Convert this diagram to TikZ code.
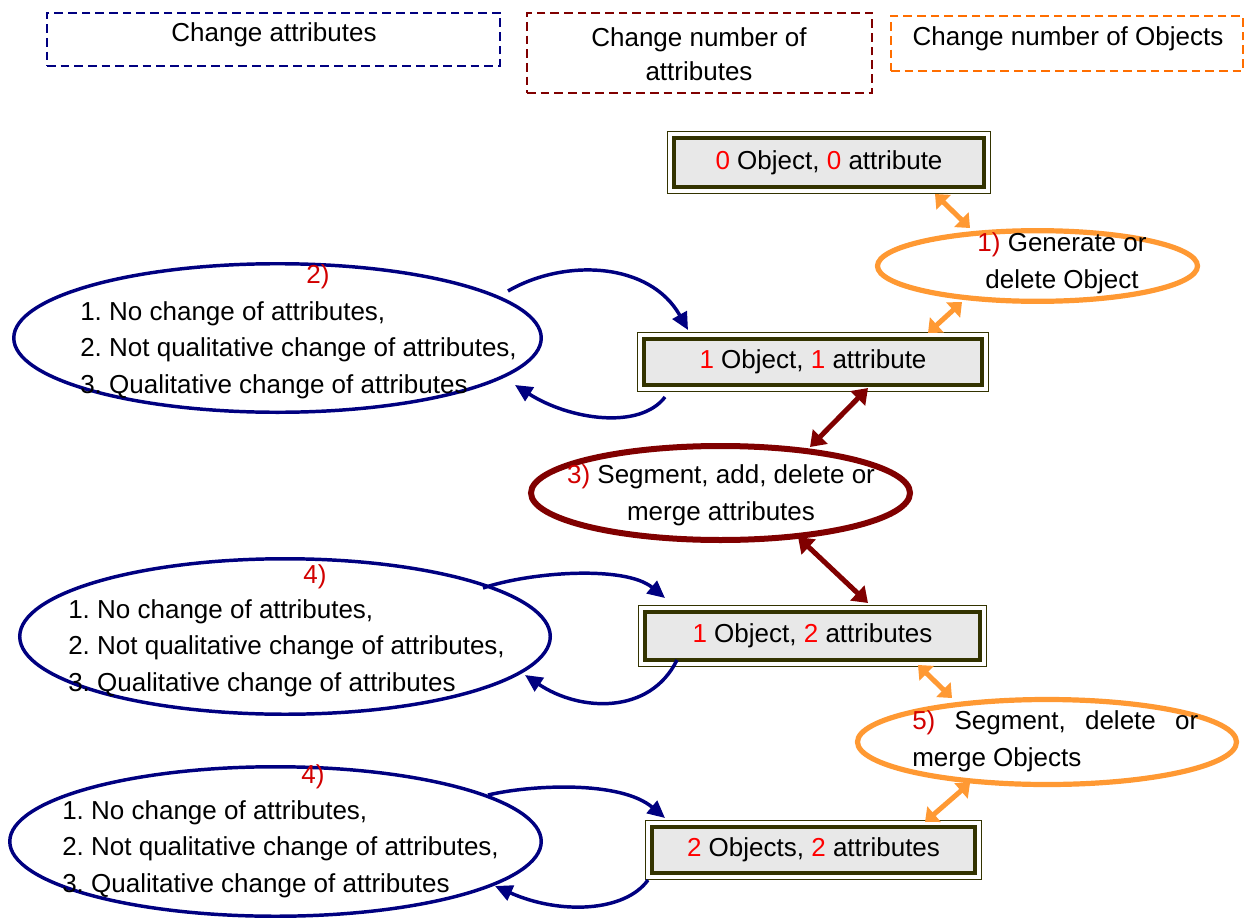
\documentclass[tikz,border=0pt]{standalone}
\usepackage{fontspec}
\setmainfont{Liberation Sans}
\usetikzlibrary{arrows.meta,shapes.geometric,calc}

\definecolor{navyline}{RGB}{0,0,128}
\definecolor{maroonline}{RGB}{128,0,0}
\definecolor{orangeline}{RGB}{255,153,51}
\definecolor{orangedash}{RGB}{255,110,0}
\definecolor{frameolive}{RGB}{51,51,0}
\definecolor{boxfill}{RGB}{232,232,232}
\definecolor{labelred}{RGB}{210,0,0}

\newcommand{\rednum}[1]{\textcolor{red}{#1}}
\newcommand{\stepmark}[1]{\textcolor{labelred}{#1}}
\frenchspacing

\begin{document}
\begin{tikzpicture}[x=0.75pt,y=-0.75pt,
  every node/.style={font=\fontsize{19.5}{27.5}\selectfont},
  txt/.style={inner sep=0pt},
  legendbox/.style={draw, line width=2.1pt, dash pattern=on 6.5pt off 3.75pt, inner sep=0pt},
  statebox/.style={draw=frameolive, line width=2.6pt, fill=boxfill, inner sep=0pt},
  outerframe/.style={draw=frameolive, line width=1.1pt},
  stage/.style={ellipse, inner sep=0pt},
  loopedge/.style={draw=navyline, line width=2.6pt, -{Triangle[length=13pt,width=12pt]}},
  objedge/.style={draw=orangeline, line width=3.75pt,
    {Triangle[length=9pt,width=15pt]}-{Triangle[length=9pt,width=15pt]}},
  attredge/.style={draw=maroonline, line width=3.75pt,
    {Triangle[length=11pt,width=15pt]}-{Triangle[length=11pt,width=15pt]}},
]
\useasboundingbox[fill=white] (0,0) rectangle (1245,920);

% legend
\node[legendbox, draw=navyline, minimum width=339.75pt, minimum height=39.75pt] (k1) at (273.5,39.5) {};
\node[txt] (k1t) at (274,35) {Change attributes};
\node[legendbox, draw=maroonline, minimum width=258.75pt, minimum height=60pt] (k2) at (699.5,53) {};
\node[txt, align=center, font=\fontsize{19.5}{25.5}\selectfont] (k2t) at (699,54) {Change number of\\attributes};
\node[legendbox, draw=orangedash, minimum width=264pt, minimum height=41.25pt] (k3) at (1067,43.5) {};
\node[txt] (k3t) at (1068,39) {Change number of Objects};

% states
\node[statebox, minimum width=232.5pt, minimum height=36.75pt] (s0) at (829,162.5) {\rednum{0} Object, \rednum{0} attribute};
\node[statebox, minimum width=253.5pt, minimum height=34.5pt] (s1) at (813,362) {\rednum{1} Object, \rednum{1} attribute};
\node[statebox, minimum width=251.25pt, minimum height=36pt] (s2) at (812.5,636) {\rednum{1} Object, \rednum{2} attributes};
\node[statebox, minimum width=242.25pt, minimum height=34.5pt] (s3) at (813.5,850) {\rednum{2} Objects, \rednum{2} attributes};
\foreach \b in {s0,s1,s2,s3}
  \draw[outerframe] ([shift={(-5,-5)}]\b.north west) rectangle ([shift={(5,5)}]\b.south east);

% transitions
\node[stage, draw=orangeline, line width=3.9pt, minimum width=240pt, minimum height=53pt] (e1) at (1037.5,266) {};
\node[txt, align=center] (t1) at (1062,263) {\stepmark{1)} Generate or\\delete Object};

\node[stage, draw=navyline, line width=2.6pt, minimum width=395.6pt, minimum height=111.4pt] (e2) at (277.5,338) {};
\node[txt] (n2) at (318,277) {\stepmark{2)}};
\node[txt, anchor=west, align=left] (l2) at (80,350) {1. No change of attributes,\\2. Not qualitative change of attributes,\\3. Qualitative change of attributes};

\node[stage, draw=maroonline, line width=4.5pt, minimum width=284.25pt, minimum height=70.5pt] (e3) at (720.5,493) {};
\node[txt, align=center] (t3) at (721,495) {\stepmark{3)} Segment, add, delete or\\merge attributes};

\node[stage, draw=navyline, line width=2.6pt, minimum width=397.9pt, minimum height=116.6pt] (e4) at (285,636.5) {};
\node[txt] (n4) at (315,577) {\stepmark{4)}};
\node[txt, anchor=west, align=left] (l4) at (68,648) {1. No change of attributes,\\2. Not qualitative change of attributes,\\3. Qualitative change of attributes};

\node[stage, draw=orangeline, line width=3.9pt, minimum width=284.25pt, minimum height=63.75pt] (e5) at (1047,742) {};
\node[txt, anchor=west, align=left] (t5) at (912,741.5) {\makebox[214.5pt][s]{\stepmark{5)} Segment, delete or}\\merge Objects};

\node[stage, draw=navyline, line width=2.6pt, minimum width=398.6pt, minimum height=112.1pt] (e6) at (275.5,841.5) {};
\node[txt] (n6) at (313,777) {\stepmark{4)}};
\node[txt, anchor=west, align=left] (l6) at (62,849) {1. No change of attributes,\\2. Not qualitative change of attributes,\\3. Qualitative change of attributes};

% object-count links
\draw[objedge] ([shift={(106,31.5)}]s0.center) -- ([shift={(-67.5,-38)}]e1.center);
\draw[objedge] ([shift={(-75.5,36)}]e1.center) -- ([shift={(115,-29)}]s1.center);
\draw[objedge] ([shift={(105.5,29)}]s2.center) -- ([shift={(-95,-44)}]e5.center);
\draw[objedge] ([shift={(-77,41)}]e5.center) -- ([shift={(111.5,-28)}]s3.center);

% attribute-count links
\draw[attredge] ([shift={(89.5,-46)}]e3.center) -- ([shift={(55,26)}]s1.center);
\draw[attredge] ([shift={(77.5,44)}]e3.center) -- ([shift={(55.5,-33)}]s2.center);

% attribute-change loops
\draw[loopedge] ([shift={(230.5,-47)}]e2.center) .. controls (565,258) and (650,262) .. ([shift={(-125,-32)}]s1.center);
\draw[loopedge] ([shift={(-148,35)}]s1.center) .. controls (640,430) and (570,420) .. ([shift={(237.5,47)}]e2.center);
\draw[loopedge] ([shift={(198,-48.5)}]e4.center) .. controls (530,572) and (625,565) .. ([shift={(-147.5,-38)}]s2.center);
\draw[loopedge] ([shift={(-135.5,24)}]s2.center) .. controls (650,715) and (580,712) .. ([shift={(240,38.5)}]e4.center);
\draw[loopedge] ([shift={(212.5,-46.5)}]e6.center) .. controls (530,785) and (620,780) .. ([shift={(-148.5,-32)}]s3.center);
\draw[loopedge] ([shift={(-165.5,30)}]s3.center) .. controls (625,912) and (560,915) .. ([shift={(219.5,44.5)}]e6.center);
\end{tikzpicture}
\end{document}
